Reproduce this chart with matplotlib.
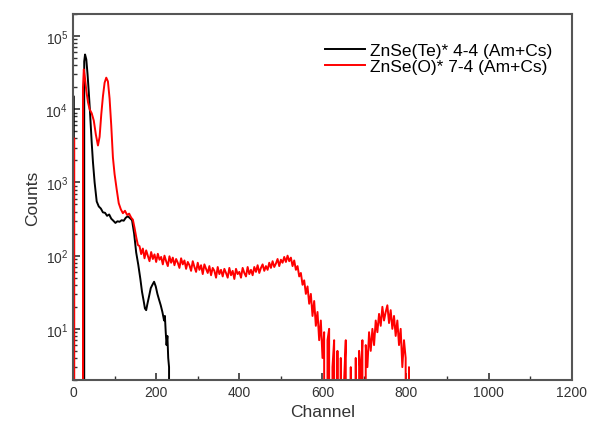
"""
Pulse height spectra of two ZnSe crystals (Am+Cs source), log counts vs channel.
"""

import numpy as np
import matplotlib
matplotlib.use('Agg')
import matplotlib.pyplot as plt
from matplotlib.ticker import MultipleLocator, LogLocator

# ZnSe(Te)* 4-4 spectrum (channel, counts)
te_channel = [0, 2, 3, 25, 27, 29, 32, 35, 38, 41, 45, 48, 52, 57, 62, 67, 72, 77, 82, 87,
              92, 97, 102, 107, 112, 117, 122, 127, 132, 137, 142, 147, 152, 157, 162, 166,
              170, 173, 176, 179, 183, 187, 191, 195, 199, 203, 207, 211, 215, 219, 221,
              223, 225, 227, 229, 231, 232]
te_counts = [15000, 15000, 0, 0, 45000, 56000, 48000, 30000, 17000, 9000, 3500, 1900, 1000,
             550, 470, 440, 390, 385, 350, 365, 320, 300, 280, 295, 290, 305, 300, 330, 345,
             325, 305, 200, 110, 75, 48, 32, 24, 19, 18, 22, 28, 36, 40, 44, 38, 30, 25, 21,
             17, 13, 15, 9, 6, 8, 4, 3, 0]

# ZnSe(O)* 7-4 spectrum (channel, counts)
o_channel = [0, 3, 4, 22, 24, 26, 29, 32, 36, 40, 45, 50, 55, 60, 64, 68, 72, 76, 80, 84,
             88, 92, 96, 100, 105, 110, 115, 120, 125, 130, 135, 140, 144, 148, 152, 156] + \
            list(range(160, 816, 4))
o_counts = [4000, 4000, 0, 0, 20000, 35000, 26000, 18000, 12500, 10000, 8800, 7000, 4500,
            3200, 4200, 8500, 15000, 23000, 27000, 24000, 14000, 6000, 2200, 1300, 810, 520,
            430, 380, 410, 360, 375, 330, 310, 240, 180, 140,
            # 160 - 196
            135, 105, 125, 92, 118, 100, 84, 112, 90, 104,
            # 200 - 236
            82, 106, 88, 96, 76, 100, 84, 72, 98, 80,
            # 240 - 276
            94, 74, 90, 80, 68, 92, 76, 86, 66, 82,
            # 280 - 316
            74, 62, 84, 70, 60, 80, 64, 74, 56, 76,
            # 320 - 356
            66, 58, 72, 54, 68, 62, 50, 70, 56, 64,
            # 360 - 396
            52, 66, 58, 50, 68, 54, 62, 48, 66, 56,
            # 400 - 436
            60, 50, 68, 58, 52, 70, 56, 64, 54, 70,
            # 440 - 476
            60, 74, 58, 68, 76, 62, 72, 64, 80, 68,
            # 480 - 516
            84, 70, 78, 90, 72, 88, 80, 96, 82, 100,
            # 520 - 556
            84, 94, 72, 86, 64, 72, 52, 58, 40, 46,
            # 560 - 596
            30, 38, 22, 30, 15, 24, 11, 17, 7, 13,
            # 600 - 636
            4, 9, 0, 7, 10, 0, 3, 7, 0, 5,
            # 640 - 676
            0, 4, 0, 2, 7, 0, 0, 3, 0, 0,
            # 680 - 716
            4, 0, 5, 2, 7, 0, 6, 3, 9, 5,
            # 720 - 756
            10, 6, 13, 9, 16, 11, 20, 13, 17, 21,
            # 760 - 796
            12, 18, 10, 15, 8, 13, 6, 10, 3, 7,
            # 800 - 812
            4, 0, 3, 0]

x_ticks = [0, 200, 400, 600, 800, 1000, 1200]

plt.rcParams['font.family'] = ['Liberation Sans', 'DejaVu Sans']

fig = plt.figure(figsize=(5.92, 4.35), dpi=100)
ax = fig.add_axes([0.1233, 0.1241, 0.8429, 0.8414])

# zero counts are clipped by the log scale, giving the drop-outs
ax.plot(te_channel, te_counts, color='black', lw=1.4, label='ZnSe(Te)* 4-4 (Am+Cs)')
ax.plot(o_channel, o_counts, color='#ff0000', lw=1.4, label='ZnSe(O)* 7-4 (Am+Cs)')

ax.set_yscale('log')
ax.set_xlim(0, 1200)
ax.set_ylim(2, 2e5)
ax.set_xticks(x_ticks)
ax.xaxis.set_minor_locator(MultipleLocator(100))
ax.yaxis.set_major_locator(LogLocator(base=10, numticks=10))
ax.yaxis.set_minor_locator(LogLocator(base=10, subs=np.arange(2, 10), numticks=20))

ax.tick_params(which='both', direction='in', colors='#333333', labelcolor='#333333',
               top=False, right=False)
ax.tick_params(which='major', length=5, width=1.2, labelsize=10)
ax.tick_params(which='minor', length=3, width=1.0)
for side in ax.spines.values():
    side.set_color('#555555')
    side.set_linewidth(1.5)

ax.set_xlabel('Channel', fontsize=12.5, color='#333333')
ax.set_ylabel('Counts', fontsize=12.5, color='#333333')

ax.legend(loc='upper right', bbox_to_anchor=(0.985, 0.955), frameon=False, fontsize=12.5,
          handlelength=2.3, handletextpad=0.3, labelspacing=0.05, borderpad=0.2)

fig.savefig('out.png', dpi=100)
